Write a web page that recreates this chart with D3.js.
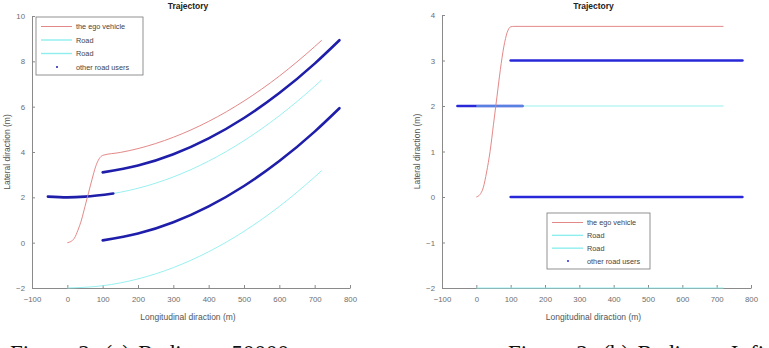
<!DOCTYPE html>
<html>
<head>
<meta charset="utf-8">
<style>
  body { margin: 0; background: #fff; }
  svg { display: block; }
  text { font-family: "Liberation Sans", Arial, sans-serif; }
  .tick text { fill: #6e6e6e; }
  .caption { font-family: "Liberation Serif", "Times New Roman", serif; fill: #111; }
</style>
</head>
<body>
<script src="https://d3js.org/d3.v7.min.js"></script>
<script>
// shared ticks and legend
var xTicks = [-100, 0, 100, 200, 300, 400, 500, 600, 700, 800];
var yTicksA = [-2, 0, 2, 4, 6, 8, 10];
var yTicksB = [-2, -1, 0, 1, 2, 3, 4];
var legendLabels = ["the ego vehicle", "Road", "Road", "other road users"];

// (a) radius = 50000
var egoA = [[0,0],[10,0.05],[20,0.2],[30,0.55],[40,1.0],[50,1.6],[60,2.2],[70,2.8],[80,3.35],[90,3.7],[100,3.85],[150,3.98],[200,4.15],[300,4.65],[400,5.35],[500,6.25],[600,7.35],[700,8.65],[720,8.93]];
var roadA1 = [[0,2.0],[100,2.1],[200,2.4],[300,2.9],[400,3.6],[500,4.5],[600,5.6],[700,6.9],[720,7.18]];
var roadA2 = [[0,-2.0],[100,-1.9],[200,-1.6],[300,-1.1],[400,-0.4],[500,0.5],[600,1.6],[700,2.9],[720,3.18]];
var usersA = [
  [[-55,2.03],[0,2.0],[50,2.03],[130,2.17]],
  [[100,3.1],[200,3.4],[300,3.9],[400,4.6],[500,5.5],[600,6.6],[700,7.9],[770,8.93]],
  [[100,0.1],[200,0.4],[300,0.9],[400,1.6],[500,2.5],[600,3.6],[700,4.9],[770,5.93]]
];

// (b) radius = Inf
var egoB = [[0,0],[10,0.05],[20,0.2],[30,0.55],[40,1.0],[50,1.6],[60,2.2],[70,2.8],[80,3.3],[90,3.62],[100,3.74],[110,3.75],[720,3.75]];
var roadB1 = [[0,2],[720,2]];
var roadB2 = [[0,-2],[720,-2]];
var usersB = [
  [[-55,2],[135,2]],
  [[100,3],[775,3]],
  [[100,0],[775,0]]
];

var W = 769, H = 348;
var svg = d3.select("body").append("svg").attr("width", W).attr("height", H);

var panels = [
  { x0: 32, x1: 350, y0: 288, y1: 16, yDomain: [-2, 10], yTicks: yTicksA,
    ego: egoA, roads: [roadA1, roadA2], users: usersA, userColor: "#1e1eaa", roadsOnTop: false,
    legend: { x: 36, y: 17, w: 107, h: 58 },
    caption: "Figure 2: (a) Radius = 50000", capX: 10 },
  { x0: 442, x1: 751, y0: 288, y1: 15, yDomain: [-2, 4], yTicks: yTicksB,
    ego: egoB, roads: [roadB1, roadB2], users: usersB, userColor: "#2828d8", roadsOnTop: true,
    legend: { x: 547, y: 213, w: 103, h: 56 },
    caption: "Figure 2: (b) Radius = Infinity", capX: 508 }
];

panels.forEach(function(p) {
  var x = d3.scaleLinear().domain([-100, 800]).range([p.x0, p.x1]);
  var y = d3.scaleLinear().domain(p.yDomain).range([p.y0, p.y1]);
  var g = svg.append("g");

  var line = d3.line()
    .x(function(d) { return x(d[0]); })
    .y(function(d) { return y(d[1]); })
    .curve(d3.curveMonotoneX);

  // axes (ticks pointing inward, no box)
  var xAxis = g.append("g").attr("transform", "translate(0," + p.y0 + ")")
    .call(d3.axisBottom(x).tickValues(xTicks).tickFormat(d3.format("d"))
      .tickSizeInner(-3).tickSizeOuter(0).tickPadding(8));
  var yAxis = g.append("g").attr("transform", "translate(" + p.x0 + ",0)")
    .call(d3.axisLeft(y).tickValues(p.yTicks).tickFormat(d3.format("d"))
      .tickSizeInner(-3).tickSizeOuter(0).tickPadding(7));
  [xAxis, yAxis].forEach(function(a) {
    a.select(".domain").attr("stroke", "#8a8a8a");
    a.selectAll(".tick line").attr("stroke", "#8a8a8a");
    a.selectAll(".tick text").attr("font-size", 7.8);
  });

  // data
  function drawRoads() {
    g.append("g").selectAll("path").data(p.roads).enter().append("path")
      .attr("d", line).attr("fill", "none")
      .attr("stroke", "#8eeeee").attr("stroke-width", 1).attr("opacity", 0.9);
  }
  if (!p.roadsOnTop) drawRoads();
  g.append("g").selectAll("path").data(p.users).enter().append("path")
    .attr("d", line).attr("fill", "none")
    .attr("stroke", p.userColor).attr("stroke-width", 2.6).attr("stroke-linecap", "round");
  if (p.roadsOnTop) drawRoads();
  g.append("path").datum(p.ego)
    .attr("d", line).attr("fill", "none")
    .attr("stroke", "#e07a7a").attr("stroke-width", 0.9);

  // labels
  var cx = (p.x0 + p.x1) / 2 - 3;
  g.append("text").attr("x", cx).attr("y", 9).attr("text-anchor", "middle")
    .attr("font-size", 8.5).attr("font-weight", "bold").attr("fill", "#222").text("Trajectory");
  g.append("text").attr("x", cx).attr("y", 320).attr("text-anchor", "middle")
    .attr("font-size", 8.5).attr("fill", "#555").text("Longitudinal diraction (m)");
  g.append("text").attr("transform", "translate(" + (p.x0 - 22) + "," + ((p.y0 + p.y1) / 2) + ") rotate(-90)")
    .attr("text-anchor", "middle").attr("font-size", 8.5).attr("fill", "#555").text("Lateral diraction (m)");

  // legend
  var L = p.legend;
  var lg = g.append("g").attr("transform", "translate(" + L.x + "," + L.y + ")");
  lg.append("rect").attr("width", L.w).attr("height", L.h)
    .attr("fill", "#fff").attr("stroke", "#777").attr("stroke-width", 0.8);
  var rowY = d3.scalePoint().domain(d3.range(legendLabels.length)).range([9.5, L.h - 8]);
  var swatch = ["#e07a7a", "#8eeeee", "#8eeeee", p.userColor];
  legendLabels.forEach(function(lbl, i) {
    var yy = rowY(i);
    if (i < 3) {
      lg.append("line").attr("x1", 5).attr("x2", 36).attr("y1", yy).attr("y2", yy)
        .attr("stroke", swatch[i]).attr("stroke-width", i === 0 ? 0.9 : 1.4);
    } else {
      lg.append("circle").attr("cx", 21).attr("cy", yy).attr("r", 1).attr("fill", swatch[i]);
    }
    lg.append("text").attr("x", 40).attr("y", yy + 2.6)
      .attr("font-size", 7.3).attr("fill", "#444").text(lbl);
  });

  // caption (cut off by the page bottom, as in the reference)
  svg.append("text").attr("class", "caption").attr("x", p.capX).attr("y", 361)
    .attr("font-size", 23).attr("word-spacing", 2.5).text(p.caption);
});
</script>
</body>
</html>
